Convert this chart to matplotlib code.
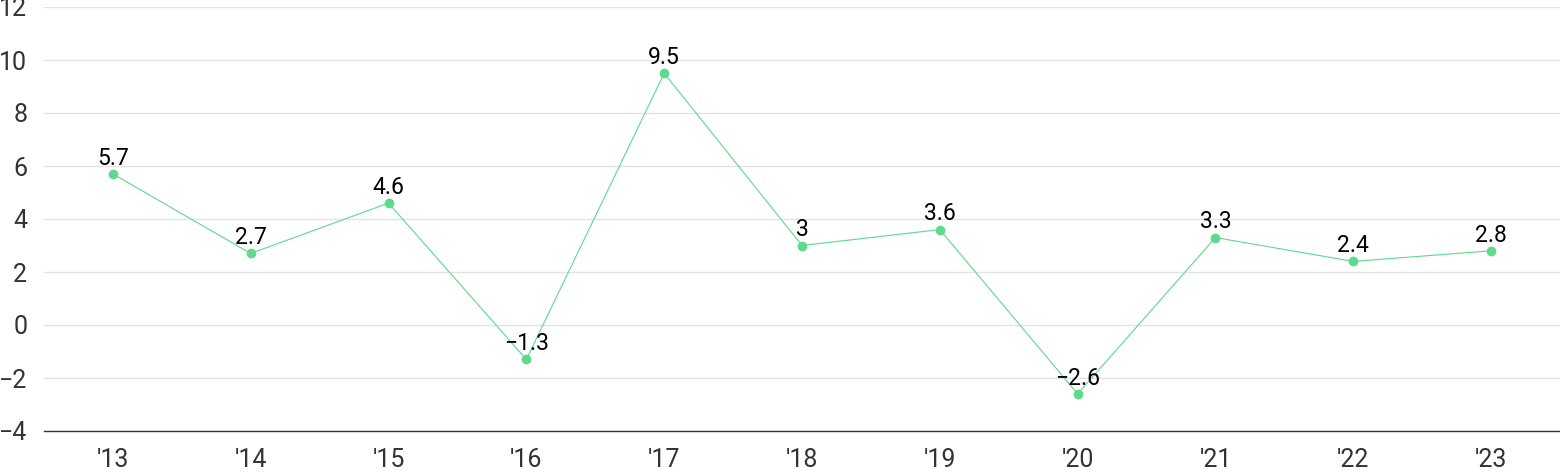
import matplotlib.pyplot as plt

years = ["'13", "'14", "'15", "'16", "'17", "'18", "'19", "'20", "'21", "'22", "'23"]
values = [5.7, 2.7, 4.6, -1.3, 9.5, 3.0, 3.6, -2.6, 3.3, 2.4, 2.8]
labels = ["5.7", "2.7", "4.6", "\u22121.3", "9.5", "3", "3.6", "\u22122.6", "3.3", "2.4", "2.8"]
yticks = [-4, -2, 0, 2, 4, 6, 8, 10, 12]

plt.rcParams['font.family'] = ['Roboto', 'DejaVu Sans']

fig = plt.figure(figsize=(15.6, 4.71), dpi=100)
ax = fig.add_axes([44 / 1560, 40 / 471, 1 - 44 / 1560, 424 / 471])

x = list(range(len(years)))
ax.plot(x, values, color='#5fd98c', lw=0.8, marker='o', ms=6, mec='#5fd98c', mfc='#5fd98c', zorder=3)
for xi, v, lab in zip(x, values, labels):
    ax.annotate(lab, (xi, v), xytext=(0, 3), textcoords='offset points',
                ha='center', va='bottom', fontsize=16.5, color='#000000', zorder=4)

ax.set_xlim(-0.5, 10.5)
ax.set_ylim(-4, 12)
ax.set_xticks(x)
ax.set_xticklabels(years)
ax.set_yticks(yticks)
ax.set_yticklabels([str(t).replace('-', '\u2212') for t in yticks])
ax.tick_params(axis='both', length=0, labelsize=18, labelcolor='#333333')
ax.tick_params(axis='x', pad=12)
ax.tick_params(axis='y', pad=12)
ax.grid(axis='y', color='#e3e3e3', lw=1)
ax.set_axisbelow(True)
for s in ['left', 'right', 'top']:
    ax.spines[s].set_visible(False)
ax.spines['bottom'].set_color('#333333')
ax.spines['bottom'].set_linewidth(1)

fig.savefig('out.png', dpi=100)
